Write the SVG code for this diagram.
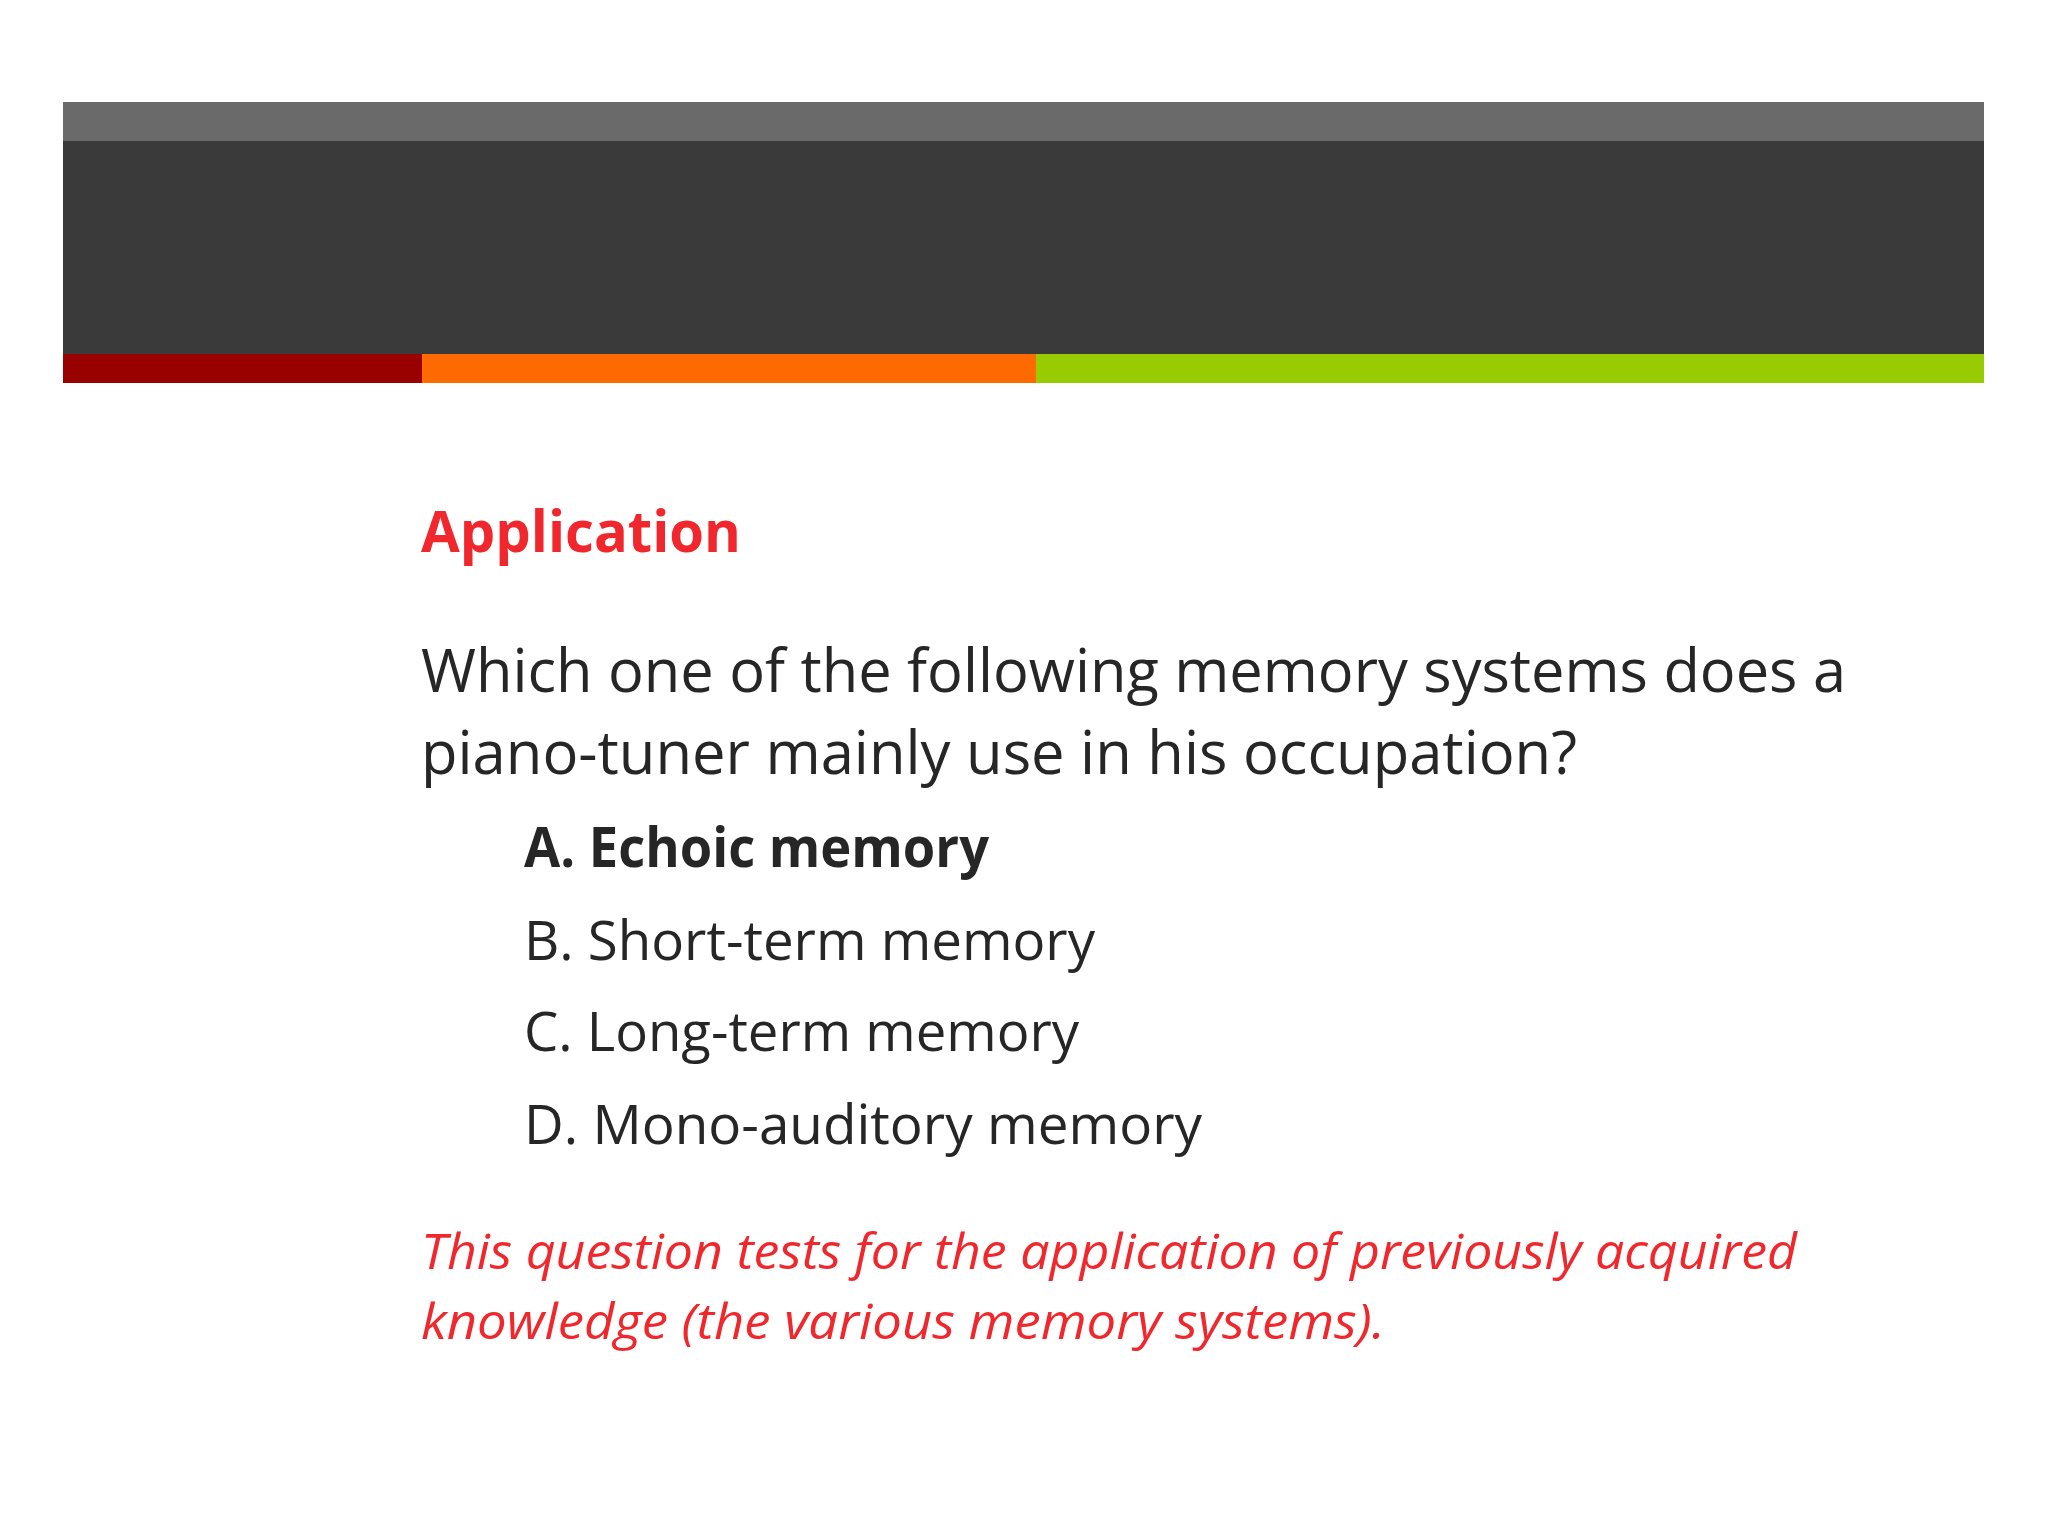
<svg xmlns="http://www.w3.org/2000/svg" width="2048" height="1536" viewBox="0 0 2048 1536">
<style>
text{font-family:"Open Sans","Liberation Sans",sans-serif;fill:#262626}
.q{font-size:60px}
.o{font-size:55px}
.r{fill:#f0282d;font-style:italic;font-size:50px}
</style>
<rect width="2048" height="1536" fill="#ffffff"/>
<g id="header">
<rect x="63" y="102" width="1921" height="40" fill="#6a6a6a"/>
<rect x="63" y="141" width="1921" height="214" fill="#3a3a3a"/>
<rect x="63" y="354" width="360" height="29" fill="#990000"/>
<rect x="422" y="354" width="614" height="29" fill="#ff6a00"/>
<rect x="1036" y="354" width="948" height="29" fill="#99cc00"/>
</g>
<g id="content">
<text x="421" y="552" font-size="58" font-weight="bold" style="fill:#f0282d" textLength="320" lengthAdjust="spacingAndGlyphs">Application</text>
<text class="q" x="421" y="692" textLength="1425" lengthAdjust="spacingAndGlyphs">Which one of the following memory systems does a</text>
<text class="q" x="421" y="774" textLength="1156" lengthAdjust="spacingAndGlyphs">piano-tuner mainly use in his occupation?</text>
<text class="o" x="524" y="867" font-weight="bold" textLength="465" lengthAdjust="spacingAndGlyphs">A. Echoic memory</text>
<text class="o" x="524" y="960" textLength="571" lengthAdjust="spacingAndGlyphs">B. Short-term memory</text>
<text class="o" x="524" y="1051" textLength="555" lengthAdjust="spacingAndGlyphs">C. Long-term memory</text>
<text class="o" x="524" y="1144" textLength="678" lengthAdjust="spacingAndGlyphs">D. Mono-auditory memory</text>
<text class="r" x="421" y="1269" textLength="1376" lengthAdjust="spacingAndGlyphs">This question tests for the application of previously acquired</text>
<text class="r" x="421" y="1339" textLength="964" lengthAdjust="spacingAndGlyphs">knowledge (the various memory systems).</text>
</g>
</svg>
